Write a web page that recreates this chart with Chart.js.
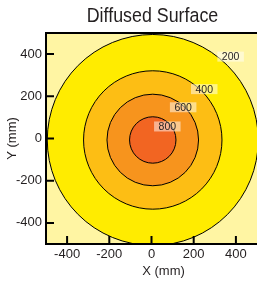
<!DOCTYPE html>
<html>
<head>
<meta charset="utf-8">
<script src="https://cdn.jsdelivr.net/npm/chart.js@4.4.0/dist/chart.umd.min.js"></script>
<style>
html, body { margin: 0; padding: 0; background: #fff; }
</style>
</head>
<body>
<canvas id="chart" width="257" height="283"></canvas>
<script>
// contour levels and the radius (mm) of each level's circle
const levels = [200, 400, 600, 800];
const radii = [500, 328, 217, 110];
const centerX = 6;
const centerY = -7;
// where each level's label sits (mm)
const labelX = [375, 250, 150, 75];
const labelY = [388, 234, 148, 57];
const xTicks = [-400, -200, 0, 200, 400];
const yTicks = [-400, -200, 0, 200, 400];

const bandColors = ['#FFEC00', '#FDBE14', '#F7941D', '#F26522'];
const plotBg = '#FFF5A3';
const ink = '#231F20';
const sans = '"Liberation Sans", Arial, sans-serif';
const titleText = 'Diffused Surface';

const decor = {
    id: 'decor',
    beforeDatasetsDraw(chart) {
        const {ctx, chartArea: a} = chart;
        ctx.save();
        ctx.fillStyle = plotBg;
        ctx.fillRect(a.left, a.top, a.right - a.left, a.bottom - a.top);
        ctx.restore();
    },
    afterDatasetsDraw(chart) {
        const {ctx, chartArea: a} = chart;
        const {x, y} = chart.scales;
        ctx.save();

        // contour labels
        ctx.font = '10.5px ' + sans;
        ctx.textAlign = 'center';
        ctx.textBaseline = 'middle';
        levels.forEach((lv, i) => {
            const px = x.getPixelForValue(labelX[i]);
            const py = y.getPixelForValue(labelY[i]);
            const w = ctx.measureText(String(lv)).width + 9;
            ctx.fillStyle = 'rgba(255,255,255,0.5)';
            ctx.fillRect(px - w / 2, py - 5, w, 10);
            ctx.fillStyle = ink;
            ctx.fillText(String(lv), px, py + 0.5);
        });

        // frame
        ctx.strokeStyle = '#000';
        ctx.lineWidth = 2;
        ctx.beginPath();
        ctx.moveTo(a.left, a.top);
        ctx.lineTo(a.right, a.top);
        ctx.moveTo(a.left, a.top - 1);
        ctx.lineTo(a.left, a.bottom + 1);
        ctx.moveTo(a.left - 1, a.bottom);
        ctx.lineTo(a.right, a.bottom);
        ctx.stroke();

        // tick marks point inward
        ctx.beginPath();
        xTicks.forEach(v => {
            const px = x.getPixelForValue(v);
            ctx.moveTo(px, a.bottom);
            ctx.lineTo(px, a.bottom - 8);
        });
        yTicks.forEach(v => {
            const py = y.getPixelForValue(v);
            ctx.moveTo(a.left, py);
            ctx.lineTo(a.left + 8, py);
        });
        ctx.stroke();
        ctx.restore();
    },
    afterDraw(chart) {
        const {ctx, chartArea: a} = chart;
        ctx.save();
        ctx.fillStyle = ink;
        ctx.textAlign = 'center';
        ctx.textBaseline = 'alphabetic';

        // x title sits a little right of centre in the original
        ctx.font = '13px ' + sans;
        ctx.fillText('X (mm)', (a.left + a.right) / 2 + 12, 275);

        // condensed title, squeezed horizontally
        ctx.font = '20.5px ' + sans;
        ctx.translate((a.left + a.right) / 2 + 1, 22);
        ctx.scale(0.87, 1);
        ctx.fillText(titleText, 0, 0);
        ctx.restore();
    }
};

const pixelRadius = (ctx) => {
    if (ctx.dataIndex === undefined)
        return 0;
    const s = ctx.chart.scales.x;
    const r = Math.abs(s.getPixelForValue(radii[ctx.dataIndex]) - s.getPixelForValue(0));
    return isFinite(r) ? r : 0;
};

new Chart(document.getElementById('chart'), {
    type: 'scatter',
    data: {
        datasets: [{
                label: titleText,
                data: levels.map(() => ({x: centerX, y: centerY})),
                pointRadius: pixelRadius,
                pointHoverRadius: pixelRadius,
                pointBackgroundColor: bandColors,
                pointBorderColor: '#000',
                pointBorderWidth: 1,
                showLine: false,
                clip: 0
            }]
    },
    options: {
        responsive: false,
        animation: false,
        events: [],
        layout: {padding: {top: 33, left: 0, right: 0, bottom: 0}, autoPadding: false},
        plugins: {
            legend: {display: false},
            tooltip: {enabled: false}
        },
        scales: {
            x: {
                type: 'linear',
                min: -500,
                max: 500,
                afterBuildTicks: s => { s.ticks = xTicks.map(v => ({value: v})); },
                afterFit: s => { s.height = 39; },
                grid: {display: false, drawTicks: false},
                border: {display: false},
                ticks: {color: ink, font: {family: sans, size: 13}, padding: 3, maxRotation: 0, autoSkip: false}
            },
            y: {
                type: 'linear',
                min: -500,
                max: 500,
                afterBuildTicks: s => { s.ticks = yTicks.map(v => ({value: v})); },
                afterFit: s => { s.width = 46; },
                grid: {display: false, drawTicks: false},
                border: {display: false},
                title: {display: true, text: 'Y (mm)', color: ink, font: {family: sans, size: 13}, padding: {top: 5, bottom: 0}},
                ticks: {color: ink, font: {family: sans, size: 13}, padding: 4, autoSkip: false}
            }
        }
    },
    plugins: [decor]
});
</script>
</body>
</html>
